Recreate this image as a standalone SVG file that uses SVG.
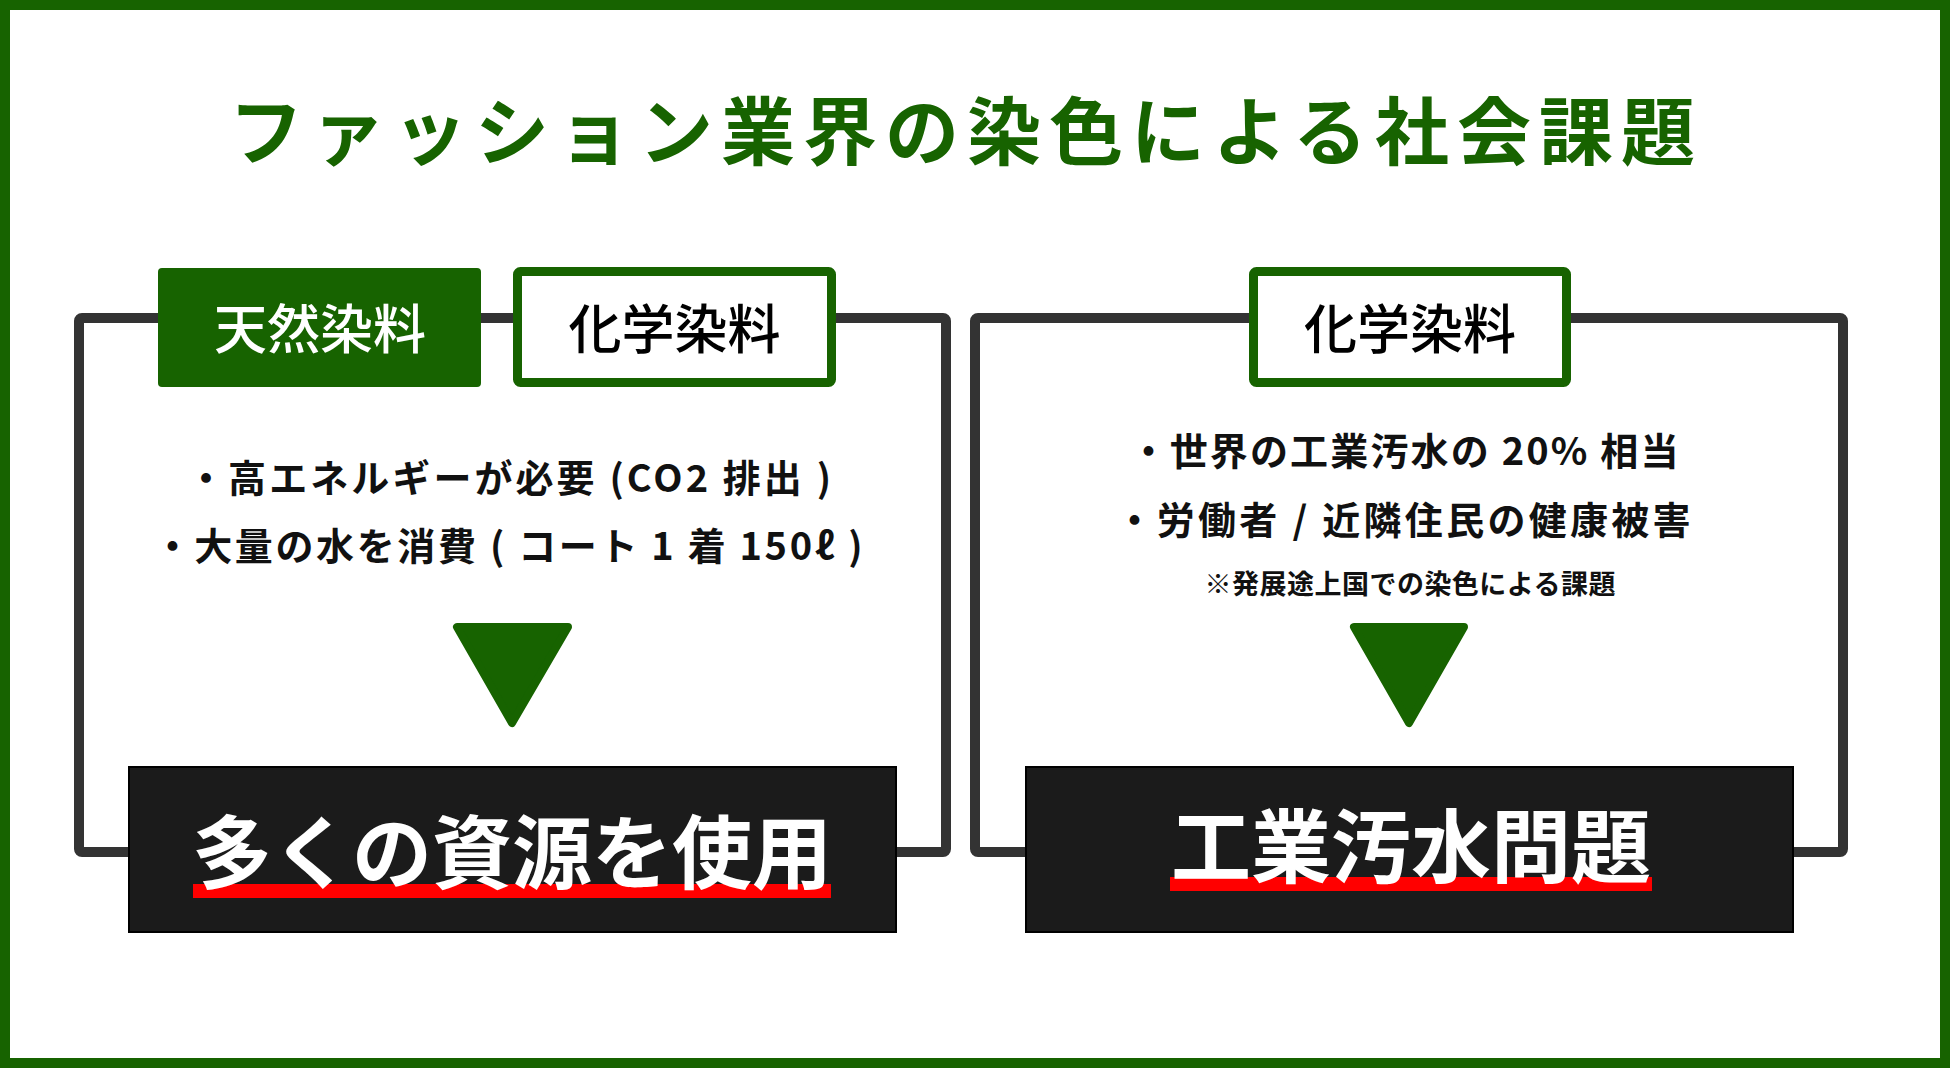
<svg xmlns="http://www.w3.org/2000/svg" width="1950" height="1068" viewBox="0 0 1950 1068">
<defs>
<style>
.jp{font-family:"Noto Sans CJK JP","Noto Sans",sans-serif;}
.title{font-size:74px;font-weight:700;fill:#176300;letter-spacing:8px;}
.frame{fill:none;stroke:#333333;stroke-width:10;stroke-linejoin:round;}
.tagfill{fill:#176300;}
.tagline{fill:#ffffff;stroke:#176300;stroke-width:9;}
.tagtxt{font-size:53px;font-weight:500;}
.bullet{font-size:38px;font-weight:700;fill:#111111;}
.note{font-size:27px;font-weight:700;fill:#111111;}
.result{fill:#1b1b1b;stroke:#000000;stroke-width:2;}
.restxt{font-size:80px;font-weight:700;fill:#ffffff;}
.under{fill:#ff0000;}
.arrow{fill:#176300;stroke:#176300;stroke-width:8;stroke-linejoin:round;}
</style>
</defs>
<rect x="0" y="0" width="1950" height="1068" fill="#ffffff"/>
<rect id="outer-border" x="5" y="5" width="1940" height="1058" fill="none" stroke="#176300" stroke-width="10"/>
<g id="title">
<text class="jp title" x="966" y="159" text-anchor="middle">ファッション業界の染色による社会課題</text>
</g>
<g id="left-panel">
<rect class="frame" x="79" y="318" width="867" height="534" rx="3"/>
</g>
<g id="right-panel">
<rect class="frame" x="975" y="318" width="868" height="534" rx="3"/>
</g>
<g id="tag-natural">
<rect class="tagfill" x="158" y="268" width="323" height="119" rx="4"/>
<text class="jp tagtxt" x="320" y="349" text-anchor="middle" fill="#ffffff">天然染料</text>
</g>
<g id="tag-chemical-left">
<rect class="tagline" x="517.5" y="271.5" width="314" height="111" rx="3"/>
<text class="jp tagtxt" x="674.5" y="349" text-anchor="middle" fill="#000000">化学染料</text>
</g>
<g id="tag-chemical-right">
<rect class="tagline" x="1253.5" y="271.5" width="313" height="111" rx="3"/>
<text class="jp tagtxt" x="1410" y="349" text-anchor="middle" fill="#000000">化学染料</text>
</g>
<g id="left-points">
<text class="jp bullet" x="509" y="492" text-anchor="middle" textLength="644" lengthAdjust="spacing">・高エネルギーが必要 (CO2 排出 )</text>
<text class="jp bullet" x="508" y="560" text-anchor="middle" textLength="709" lengthAdjust="spacing">・大量の水を消費 ( コート 1 着 150ℓ )</text>
</g>
<g id="right-points">
<text class="jp bullet" x="1404" y="465" text-anchor="middle" textLength="549" lengthAdjust="spacing">・世界の工業汚水の 20% 相当</text>
<text class="jp bullet" x="1403" y="534" text-anchor="middle" textLength="575" lengthAdjust="spacing">・労働者 / 近隣住民の健康被害</text>
<text class="jp note" x="1410" y="594" text-anchor="middle" textLength="411" lengthAdjust="spacing">※発展途上国での染色による課題</text>
</g>
<g id="connectors">
<polygon class="arrow" points="457,627 568,627 512,723"/>
<polygon class="arrow" points="1354,627 1464,627 1409,723"/>
</g>
<g id="result-left">
<rect class="result" x="129" y="767" width="767" height="165"/>
<rect class="under" x="193" y="884" width="638" height="14"/>
<text class="jp restxt" x="512" y="882" text-anchor="middle">多くの資源を使用</text>
</g>
<g id="result-right">
<rect class="result" x="1026" y="767" width="767" height="165"/>
<rect class="under" x="1170" y="877" width="482" height="14"/>
<text class="jp restxt" x="1411" y="876" text-anchor="middle">工業汚水問題</text>
</g>
</svg>
